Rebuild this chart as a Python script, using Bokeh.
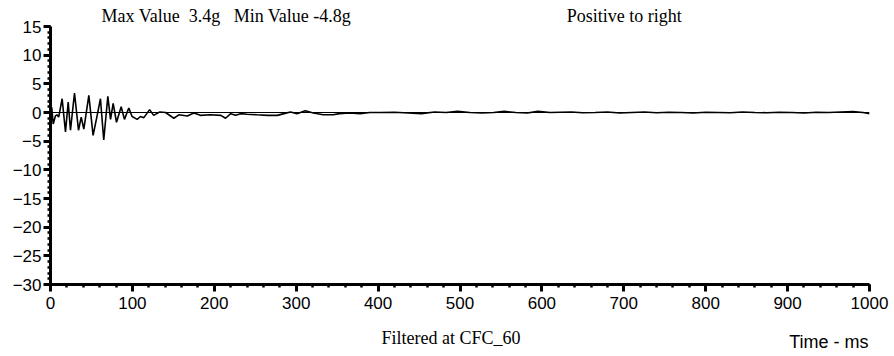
from bokeh.plotting import figure
from bokeh.models import Range1d, Span, Title, FixedTicker
from bokeh.embed import file_html
from bokeh.resources import INLINE

# Time (ms) and acceleration (g)
time_ms = [0, 1.5, 3.3, 6, 8, 10, 14.2, 18.3, 21.6, 24.4, 29.3, 34.2, 37.5, 40.7,
           46.8, 52, 57, 61, 65, 70, 73.3, 76.5, 80.6, 86.3, 90.3, 95.6, 99.6,
           105.8, 109.9, 114, 121, 126, 133.5, 140.5, 150.6, 156.7, 167, 175,
           183, 195, 208, 213.7, 220, 226, 232, 240, 252, 265, 277, 285, 293,
           301, 311, 321, 333, 345, 353, 365, 378, 390, 403, 420, 437, 453, 469,
           483, 497, 512, 527, 541, 554, 568, 582, 595, 610, 622, 636, 650, 665,
           680, 695, 710, 725, 740, 755, 770, 785, 800, 815, 830, 845, 860, 875,
           890, 905, 920, 935, 950, 965, 980, 992, 1000]
accel_g = [0.3, 0.9, -2.0, -0.6, -0.4, -0.8, 2.4, -3.4, 1.8, -3.1, 3.4, -3.1, -0.8, -2.9,
           3.0, -4.0, -0.5, 2.4, -4.8, 2.8, -1.2, 1.6, -1.7, 1.0, -1.2, 0.8, -0.7,
           -1.2, -0.7, -0.9, 0.5, -0.5, 0.1, 0.0, -1.0, -0.4, -0.6, -0.1,
           -0.5, -0.4, -0.5, -1.0, -0.2, -0.5, -0.2, -0.3, -0.4, -0.5, -0.5, -0.2, 0.1,
           -0.2, 0.3, -0.1, -0.4, -0.4, -0.2, -0.1, -0.2, 0.0, 0.0, 0.05, -0.1, -0.2, 0.1,
           0.0, 0.2, 0.0, -0.1, 0.0, 0.2, 0.0, -0.1, 0.2, 0.0, 0.05, 0.1, -0.05, 0.0,
           0.1, -0.1, 0.0, 0.1, -0.05, 0.05, 0.0, -0.1, 0.05, 0.0, -0.05, 0.1, 0.0, -0.05,
           0.05, 0.0, -0.1, 0.05, 0.0, 0.1, 0.15, 0.0, -0.2]

x_ticks = [0, 100, 200, 300, 400, 500, 600, 700, 800, 900, 1000]
x_minor = [v for v in range(0, 1001, 20)]
y_ticks = [-30, -25, -20, -15, -10, -5, 0, 5, 10, 15]
y_minor = [v for v in range(-30, 16)]

NB = "\u00a0"
top_text = ("Max Value" + NB * 2 + "3.4g" + NB * 3 + "Min Value -4.8g"
            + NB * 48 + "Positive to right")
filter_text = "Filtered at CFC_60" + NB * 4
time_text = "Time - ms"

p = figure(width=894, height=356, output_backend="svg", toolbar_location=None,
           x_range=Range1d(0, 1000), y_range=Range1d(-30, 15),
           min_border_left=50, min_border_right=25, min_border_top=26, min_border_bottom=72)
p.outline_line_color = None
p.xgrid.visible = False
p.ygrid.visible = False
p.background_fill_color = "white"
p.border_fill_color = "white"

# top annotation line as the plot title
p.title.text = top_text
p.title.text_font = "Liberation Serif"
p.title.text_font_size = "18px"
p.title.text_font_style = "normal"
p.title.text_color = "black"
p.title.align = "left"
p.title.offset = 51
p.title.standoff = 2

p.xaxis.ticker = FixedTicker(ticks=x_ticks, minor_ticks=x_minor)
p.yaxis.ticker = FixedTicker(ticks=y_ticks, minor_ticks=y_minor)
for ax in (p.xaxis, p.yaxis):
    ax.axis_line_width = 3
    ax.axis_line_color = "black"
    ax.major_tick_line_width = 3
    ax.major_tick_line_color = "black"
    ax.minor_tick_line_width = 2.5
    ax.minor_tick_line_color = "black"
    ax.major_tick_out = 7
    ax.major_tick_in = 0
    ax.minor_tick_out = 3
    ax.minor_tick_in = 0
    ax.major_label_text_font = "Liberation Sans"
    ax.major_label_text_font_size = "17px"
    ax.major_label_text_color = "black"
p.xaxis.major_label_standoff = 5
p.yaxis.major_label_standoff = 2

p.xaxis.axis_label = filter_text
p.xaxis.axis_label_text_font = "Liberation Serif"
p.xaxis.axis_label_text_font_size = "18px"
p.xaxis.axis_label_text_font_style = "normal"
p.xaxis.axis_label_text_color = "black"
p.xaxis.axis_label_standoff = 16

p.add_layout(Title(text=time_text, text_font="Liberation Sans", text_font_size="18px",
                   text_font_style="normal", text_color="black", align="right",
                   offset=1, vertical_align="top", standoff=-37), "below")

p.add_layout(Span(location=0, dimension="width", line_color="black", line_width=1))
p.line(time_ms, accel_g, line_color="black", line_width=1.6)

open("out.html", "w").write(file_html(p, INLINE))
